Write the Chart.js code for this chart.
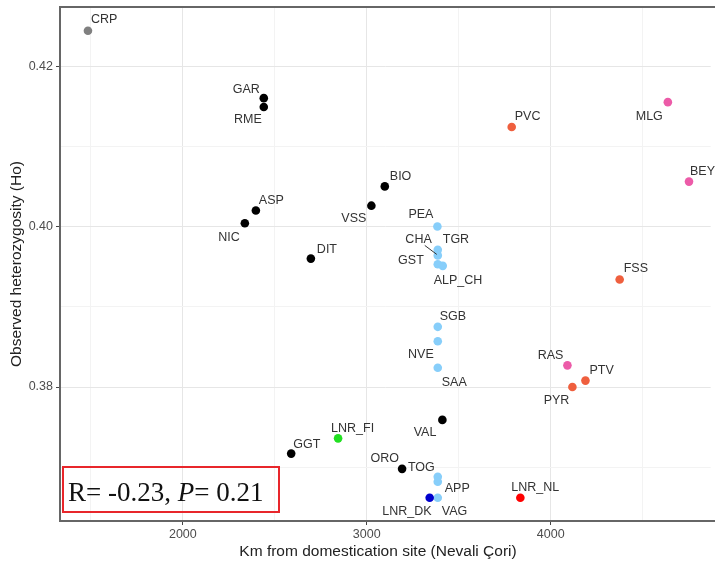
<!DOCTYPE html>
<html>
<head>
<meta charset="utf-8">
<script src="https://cdn.jsdelivr.net/npm/chart.js@4"></script>
<style>
  html, body { margin: 0; padding: 0; background: #fff; }
  #wrap { width: 715px; height: 569px; position: relative; }
</style>
</head>
<body>
<div id="wrap"><canvas id="chart" width="715" height="569"></canvas></div>
<script>
// breeds and values
const breeds = ['CRP','GAR','RME','ASP','NIC','DIT','VSS','BIO','PVC','MLG','BEY','PEA','TGR','CHA','GST','ALP_CH','FSS','SGB','NVE','SAA','RAS','PTV','PYR','VAL','LNR_FI','GGT','ORO','TOG','APP','VAG','LNR_DK','LNR_NL'];
const km = [1484,2440,2440,2397,2337,2696,3025,3098,3788,4637,4752,3384,3386,3386,3386,3413,4375,3386,3386,3386,4091,4189,4118,3411,2844,2589,3192,3386,3386,3386,3342,3835];
const ho = [0.4244,0.4160,0.4149,0.4020,0.4004,0.3960,0.4026,0.4050,0.4124,0.4155,0.4056,0.4000,0.3971,0.3964,0.3953,0.3951,0.3934,0.3875,0.3857,0.3824,0.3827,0.3808,0.3800,0.3759,0.3736,0.3717,0.3698,0.3688,0.3682,0.3662,0.3662,0.3662];
const group = ['grey','black','black','black','black','black','black','black','orange','pink','pink','lblue','lblue','lblue','lblue','lblue','orange','lblue','lblue','lblue','pink','orange','orange','black','green','black','black','lblue','lblue','lblue','dblue','red'];
const xTicks = [2000, 3000, 4000];
const yTicks = [0.38, 0.40, 0.42];
const xTitle = 'Km from domestication site (Nevali Çori)';
const yTitle = 'Observed heterozygosity (Ho)';
const statText = ['R= -0.23, ', 'P', '= 0.21'];

const colours = {
  grey: '#808080', black: '#000000', orange: '#EF5F3E', pink: '#EC5BA8',
  lblue: '#87CEFA', green: '#22E022', dblue: '#0000CD', red: '#FF0000'
};
const sans = '"Liberation Sans", Arial, sans-serif';
const serif = '"Liberation Serif", "Times New Roman", serif';

// label placement around each point: dx, dy, align
const labelPos = {
  CRP:[3,-11,'left'], GAR:[-4,-9,'right'], RME:[-2,13,'right'], ASP:[3,-10,'left'],
  NIC:[-5,14,'right'], DIT:[6,-9,'left'], VSS:[-5,13,'right'], BIO:[5,-10,'left'],
  PVC:[3,-10,'left'], MLG:[-5,14,'right'], BEY:[1,-10,'left'], PEA:[-4,-12,'right'],
  TGR:[5,-10,'left'], CHA:[-6,-16,'right'], GST:[-14,-4,'right'], ALP_CH:[-9,15,'left'],
  FSS:[4,-11,'left'], SGB:[2,-10,'left'], NVE:[-4,13,'right'], SAA:[4,15,'left'],
  RAS:[-4,-10,'right'], PTV:[4,-10,'left'], PYR:[-3,14,'right'], VAL:[-6,13,'right'],
  LNR_FI:[-7,-10,'left'], GGT:[2,-9,'left'], ORO:[-3,-10,'right'], TOG:[-3,-9,'right'],
  APP:[7,7,'left'], VAG:[4,14,'left'], LNR_DK:[2,14,'right'], LNR_NL:[-9,-10,'left']
};

const points = km.map((x, i) => ({ x: x, y: ho[i] }));

const labelPlugin = {
  id: 'pointLabels',
  afterDatasetsDraw(chart) {
    const ctx = chart.ctx;
    const meta = chart.getDatasetMeta(0);
    ctx.save();
    ctx.font = '12.5px ' + sans;
    ctx.fillStyle = '#333333';
    ctx.textBaseline = 'middle';
    meta.data.forEach((pt, i) => {
      const p = labelPos[breeds[i]] || [4, -10, 'left'];
      ctx.textAlign = p[2];
      ctx.fillText(breeds[i], pt.x + p[0], pt.y + p[1]);
      if (breeds[i] === 'CHA') {
        ctx.strokeStyle = '#333333';
        ctx.lineWidth = 1;
        ctx.beginPath();
        ctx.moveTo(pt.x - 13, pt.y - 10);
        ctx.lineTo(pt.x - 1, pt.y - 1);
        ctx.stroke();
      }
    });
    ctx.restore();
  }
};

const panelPlugin = {
  id: 'panel',
  afterDraw(chart) {
    const { ctx, chartArea } = chart;
    ctx.save();
    // panel border (right side runs off the picture)
    ctx.strokeStyle = '#666666';
    ctx.lineWidth = 2;
    ctx.strokeRect(chartArea.left, chartArea.top, chartArea.right - chartArea.left + 20, chartArea.bottom - chartArea.top);
    // axis titles
    ctx.fillStyle = '#222222';
    ctx.font = '15.5px ' + sans;
    ctx.textAlign = 'center';
    ctx.textBaseline = 'middle';
    ctx.fillText(xTitle, 378, 552);
    ctx.save();
    ctx.translate(17, 264);
    ctx.rotate(-Math.PI / 2);
    ctx.fillText(yTitle, 0, 0);
    ctx.restore();
    // statistics box
    ctx.strokeStyle = '#E8262B';
    ctx.lineWidth = 2;
    ctx.strokeRect(63, 467, 216, 45);
    ctx.fillStyle = '#111111';
    ctx.textBaseline = 'alphabetic';
    ctx.textAlign = 'left';
    let x = 68;
    const base = 501;
    ctx.font = '27px ' + serif;
    ctx.fillText(statText[0], x, base);
    x += ctx.measureText(statText[0]).width;
    ctx.font = 'italic 27px ' + serif;
    ctx.fillText(statText[1], x, base);
    x += ctx.measureText(statText[1]).width;
    ctx.font = '27px ' + serif;
    ctx.fillText(statText[2], x, base);
    ctx.restore();
  }
};

const gridColour = (ctx, majors) => {
  const v = ctx.tick && ctx.tick.value;
  return majors.some(m => Math.abs(m - v) < 1e-6) ? '#E6E6E6' : '#F3F3F3';
};
const tickColour = (ctx, majors) => {
  const v = ctx.tick && ctx.tick.value;
  return majors.some(m => Math.abs(m - v) < 1e-6) ? '#444444' : 'rgba(0,0,0,0)';
};

new Chart(document.getElementById('chart').getContext('2d'), {
  type: 'scatter',
  data: {
    datasets: [{
      data: points,
      pointBackgroundColor: group.map(g => colours[g]),
      pointBorderWidth: 0,
      pointRadius: 4.3,
      pointHoverRadius: 4.3
    }]
  },
  options: {
    responsive: false,
    animation: false,
    events: [],
    layout: { padding: { top: 7, right: 0, bottom: 0, left: 0 } },
    plugins: { legend: { display: false }, tooltip: { enabled: false } },
    scales: {
      x: {
        type: 'linear',
        min: 1332,
        max: 4870,
        afterBuildTicks: s => {
          s.ticks = [1500, 2000, 2500, 3000, 3500, 4000, 4500].map(v => ({ value: v }));
        },
        afterFit: s => { s.height = 48; },
        grid: {
          color: c => gridColour(c, xTicks),
          tickColor: c => tickColour(c, xTicks),
          tickLength: 4,
          lineWidth: 1
        },
        border: { display: false },
        ticks: {
          padding: 2,
          color: '#4D4D4D',
          font: { family: sans, size: 12.5 },
          callback: v => xTicks.includes(v) ? String(v) : ''
        }
      },
      y: {
        type: 'linear',
        min: 0.3633,
        max: 0.42736,
        afterBuildTicks: s => {
          s.ticks = [0.37, 0.38, 0.39, 0.40, 0.41, 0.42].map(v => ({ value: v }));
        },
        afterFit: s => { s.width = 60; s.paddingTop = 0; s.paddingBottom = 0; },
        grid: {
          color: c => gridColour(c, yTicks),
          tickColor: c => tickColour(c, yTicks),
          tickLength: 4,
          lineWidth: 1
        },
        border: { display: false },
        ticks: {
          padding: 3,
          color: '#4D4D4D',
          font: { family: sans, size: 12.5 },
          callback: v => yTicks.some(t => Math.abs(t - v) < 1e-6) ? v.toFixed(2) : ''
        }
      }
    }
  },
  plugins: [labelPlugin, panelPlugin]
});
</script>
</body>
</html>
